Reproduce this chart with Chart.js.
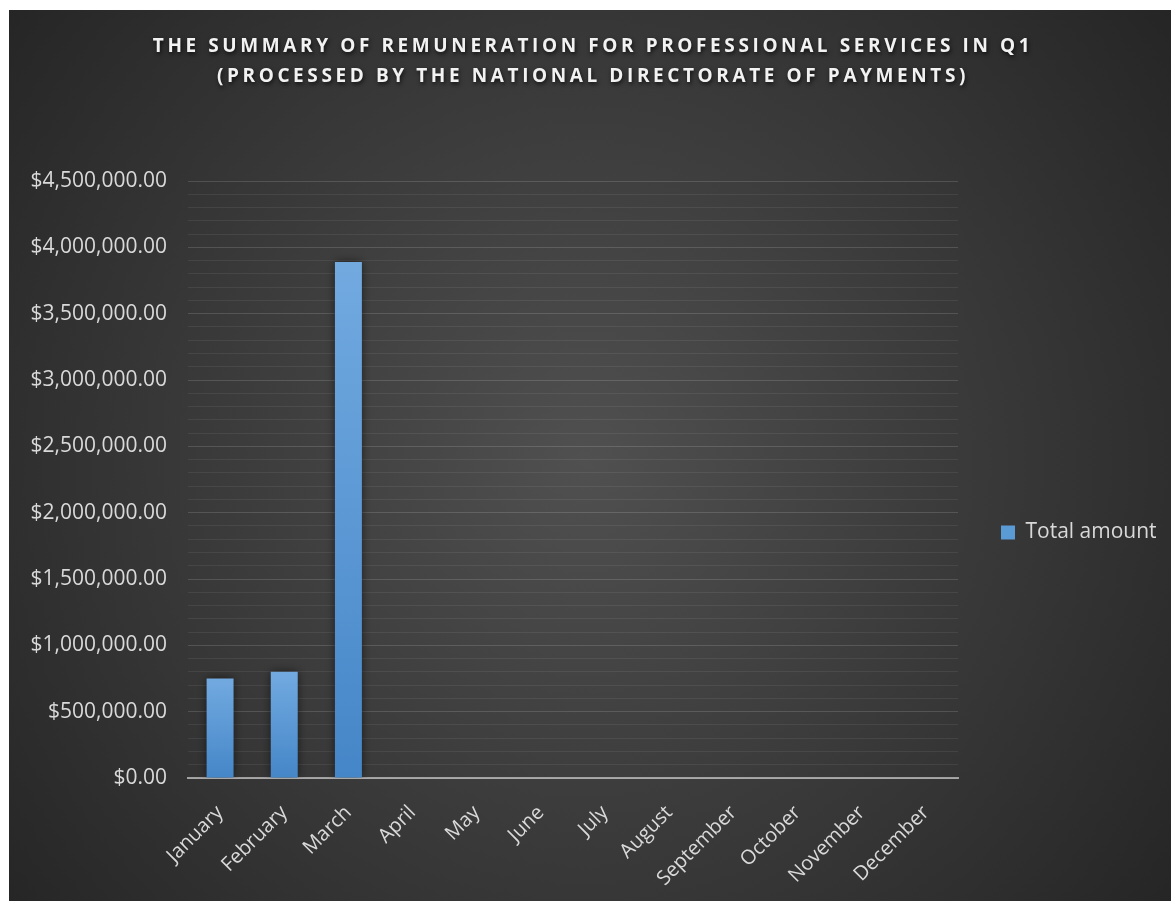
<!DOCTYPE html>
<html><head><meta charset="utf-8">
<script src="https://cdn.jsdelivr.net/npm/chart.js@4"></script>
<style>html,body{margin:0;padding:0;background:#fff;}canvas{display:block;}</style>
</head><body>
<canvas id="c" width="1171" height="901"></canvas>
<script>
const months = ['January','February','March','April','May','June','July','August','September','October','November','December'];
const totalAmount = [750000, 800000, 3890000, null, null, null, null, null, null, null, null, null];
const seriesName = 'Total amount';
const titleLines = ['THE SUMMARY OF REMUNERATION FOR PROFESSIONAL SERVICES IN Q1', '(PROCESSED BY THE NATIONAL DIRECTORATE OF PAYMENTS)'];
const yMin = 0, yMax = 4500000, yMinorStep = 100000, yMajorStep = 500000;

const money = v => '$' + v.toLocaleString('en-US', {minimumFractionDigits: 2, maximumFractionDigits: 2});

const bgPlugin = {
  id: 'bg',
  beforeDraw(chart) {
    const ctx = chart.ctx;
    ctx.save();
    ctx.fillStyle = '#ffffff';
    ctx.fillRect(0, 0, chart.width, chart.height);
    const g = ctx.createRadialGradient(585, 460, 0, 585, 460, 760);
    g.addColorStop(0, '#505050');
    g.addColorStop(1, '#242424');
    ctx.fillStyle = g;
    ctx.fillRect(9, 10, chart.width - 9, chart.height - 10);
    ctx.restore();
  },
  afterLayout(chart) {
    const lg = chart.legend;
    if (lg) { lg.left += 33; lg.right = chart.width; lg.top += 77; lg.bottom += 77; }
    const t = chart.titleBlock;
    if (t) {
      t.left = 0; t.right = 1186;
      if (!t._patched) {
        const orig = t.draw;
        t.draw = function() {
          const c = this.ctx;
          c.save();
          c.letterSpacing = '3.6px';
          c.shadowColor = 'rgba(0,0,0,0.75)';
          c.shadowBlur = 4; c.shadowOffsetX = 1; c.shadowOffsetY = 2;
          orig.call(this);
          c.restore();
        };
        t._patched = true;
      }
    }
  },
  beforeDatasetsDraw(chart) {
    const ctx = chart.ctx;
    ctx.save();
    ctx.shadowColor = 'rgba(0,0,0,0.55)';
    ctx.shadowBlur = 10;
    ctx.shadowOffsetX = 0; ctx.shadowOffsetY = 0;
  },
  afterDatasetsDraw(chart) { chart.ctx.restore(); }
};

new Chart(document.getElementById('c'), {
  type: 'bar',
  data: {
    labels: months,
    datasets: [{
      label: seriesName,
      data: totalAmount,
      backgroundColor(c) {
        const chart = c.chart;
        const ys = chart.scales && chart.scales.y;
        if (!ys || c.raw == null || c.type !== 'data') return '#5b9bd5';
        const top = ys.getPixelForValue(c.raw), bot = ys.getPixelForValue(0);
        if (!isFinite(top) || !isFinite(bot) || top === bot) return '#5b9bd5';
        const g = chart.ctx.createLinearGradient(0, top, 0, bot);
        g.addColorStop(0, '#72aae0');
        g.addColorStop(1, '#4586c8');
        return g;
      },
      borderWidth: 0,
      categoryPercentage: 1,
      barPercentage: 0.42
    }]
  },
  options: {
    responsive: false,
    animation: false,
    events: [],
    layout: {padding: {top: 10, left: 0, right: 63, bottom: 0}},
    plugins: {
      title: {
        display: true, text: titleLines, color: '#f2f2f2',
        font: {family: 'Open Sans', size: 19, weight: 'bold', lineHeight: 30/19},
        padding: {top: 22, bottom: 89}
      },
      legend: {
        position: 'right', maxWidth: 150,
        labels: {
          color: '#d9d9d9', font: {family: 'Open Sans', size: 21},
          boxWidth: 14, boxHeight: 14, padding: 10,
          generateLabels(chart) {
            return [{text: seriesName, fillStyle: '#5b9bd5', strokeStyle: '#5b9bd5', lineWidth: 0, hidden: false, datasetIndex: 0, fontColor: '#d9d9d9'}];
          }
        }
      },
      tooltip: {enabled: false}
    },
    scales: {
      x: {
        z: 1,
        grid: {display: false},
        border: {display: true, color: 'rgba(205,205,205,0.7)', width: 2},
        ticks: {color: '#d9d9d9', font: {family: 'Open Sans', size: 20}, minRotation: 45, maxRotation: 45, padding: 15, autoSkip: false},
        afterFit(s) { s.height = 123; }
      },
      y: {
        min: yMin, max: yMax,
        border: {display: false},
        grid: {
          drawTicks: false, lineWidth: 1,
          color: c => (c.tick && c.tick.value % yMajorStep === 0) ? 'rgba(255,255,255,0.14)' : 'rgba(255,255,255,0.07)'
        },
        ticks: {
          stepSize: yMinorStep, autoSkip: false, maxTicksLimit: 100, padding: 21,
          color: '#d9d9d9', font: {family: 'Open Sans', size: 21},
          callback: v => (v % yMajorStep === 0) ? money(v) : ''
        },
        afterFit(s) { s.width = 188; }
      }
    }
  },
  plugins: [bgPlugin]
});
</script>
</body></html>
